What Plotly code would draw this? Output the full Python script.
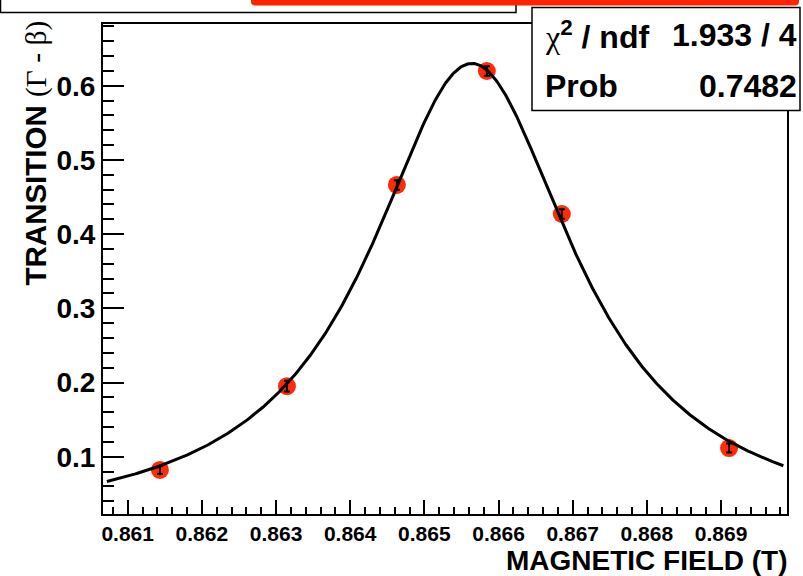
import numpy as np
import plotly.graph_objects as go

# Measured transition probability vs. magnetic field
field = [0.861435, 0.863147, 0.864629, 0.865842, 0.866853, 0.869108]
transition = [0.0821, 0.1950, 0.4662, 0.6198, 0.4271, 0.1117]
transition_err = [0.0055, 0.0072, 0.0065, 0.0065, 0.0065, 0.0060]

x_ticks = [0.861, 0.862, 0.863, 0.864, 0.865, 0.866, 0.867, 0.868, 0.869]
y_ticks = [0.1, 0.2, 0.3, 0.4, 0.5, 0.6]

# Lorentzian fit result
fit_amp = 0.630
fit_mean = 0.86564
fit_hwhm = 0.00169
fit_range = (0.86072, 0.86984)
chi2_ndf = "1.933 / 4"
prob = "0.7482"

W, H = 803, 576
L, R, T, B = 103, 787, 24, 514


def px(x):
    return (x - L) / (R - L)


def py(y):
    return (B - y) / (B - T)


xs = np.linspace(fit_range[0], fit_range[1], 500)
ys = fit_amp / (1.0 + ((xs - fit_mean) / fit_hwhm) ** 2)

RED = "#ff2a08"
FONT = "Liberation Sans"

fig = go.Figure()
# data markers
fig.add_trace(go.Scatter(
    x=field, y=transition, mode="markers",
    marker=dict(size=18, color=RED, line=dict(width=0)),
    showlegend=False, hoverinfo="skip",
))
# error bars on top of the markers
fig.add_trace(go.Scatter(
    x=field, y=transition, mode="markers",
    marker=dict(size=1, color="rgba(0,0,0,0)"),
    error_y=dict(type="data", array=transition_err, color="black",
                 thickness=2, width=3),
    showlegend=False, hoverinfo="skip",
))
# fitted curve
fig.add_trace(go.Scatter(
    x=xs, y=ys, mode="lines", line=dict(color="black", width=3),
    showlegend=False, hoverinfo="skip",
))

fig.update_layout(
    width=W, height=H,
    margin=dict(l=L, r=W - R, t=T, b=H - B, pad=0),
    paper_bgcolor="white", plot_bgcolor="white",
    font=dict(family=FONT, color="black"),
    xaxis=dict(
        range=[0.860667, 0.869889], tickvals=x_ticks,
        ticktext=[f"{v:.3f}" for v in x_ticks],
        ticks="inside", ticklen=14, tickwidth=1.5, tickcolor="black",
        minor=dict(dtick=0.0002, tick0=0.861, ticks="inside", ticklen=7,
                   tickwidth=1.5, tickcolor="black", showgrid=False),
        showgrid=False, zeroline=False,
        showline=True, linecolor="black", linewidth=2, mirror=True,
        tickfont=dict(size=21, family=FONT, weight="bold"),
    ),
    yaxis=dict(
        range=[0.02278, 0.68315], tickvals=y_ticks,
        ticktext=[f"{v:.1f}" for v in y_ticks],
        ticks="inside", ticklen=21, tickwidth=1.5, tickcolor="black",
        minor=dict(dtick=0.02, tick0=0.0, ticks="inside", ticklen=11,
                   tickwidth=1.5, tickcolor="black", showgrid=False),
        showgrid=False, zeroline=False,
        showline=True, linecolor="black", linewidth=2, mirror=True,
        tickfont=dict(size=28, family=FONT, weight="bold"),
    ),
)

shapes = []
# title pave (partly off the page)
shapes.append(dict(type="rect", xref="paper", yref="paper",
                   x0=px(0.5), x1=px(516), y0=py(-3), y1=py(12.5),
                   line=dict(color="black", width=1.5), fillcolor="white",
                   layer="above"))
# red banner with rounded lower corners
rx0, rx1, ry0, ry1, rr = 251, 799, -3, 5.5, 4


def P(x, y):
    return f"{px(x):.6f},{py(y):.6f}"


banner = (f"M {P(rx0, ry0)} L {P(rx0, ry1 - rr)} "
          f"Q {P(rx0, ry1)} {P(rx0 + rr, ry1)} "
          f"L {P(rx1 - rr, ry1)} Q {P(rx1, ry1)} {P(rx1, ry1 - rr)} "
          f"L {P(rx1, ry0)} Z")
shapes.append(dict(type="path", xref="paper", yref="paper", path=banner,
                   line=dict(width=0), fillcolor="#ff2200", layer="above"))
# statistics box
shapes.append(dict(type="rect", xref="paper", yref="paper",
                   x0=px(532), x1=px(800), y0=py(7.5), y1=py(110.5),
                   line=dict(color="black", width=1.5), fillcolor="white",
                   layer="above"))
fig.update_layout(shapes=shapes)

ann = []
ann.append(dict(text="<b>MAGNETIC FIELD (T)</b>", xref="paper", yref="paper",
                x=1.0, y=py(560), xanchor="right", yanchor="middle",
                xshift=3, showarrow=False, font=dict(size=28, family=FONT)))
ann.append(dict(text="<b>TRANSITION </b><span style=\"font-family:Liberation Serif\">(Γ - β)</span>",
                xref="paper", yref="paper", x=px(35), y=py(19),
                xanchor="center", yanchor="top", textangle=-90,
                showarrow=False, font=dict(size=29.5, family=FONT)))
stat_font = dict(size=32, family=FONT)
ann.append(dict(text="<span style=\"font-family:Liberation Serif\">χ</span><b><sup>2</sup> / ndf</b>",
                xref="paper", yref="paper", x=px(543), y=py(35),
                xanchor="left", yanchor="middle", showarrow=False,
                font=stat_font))
ann.append(dict(text=f"<b>{chi2_ndf}</b>", xref="paper", yref="paper",
                x=px(799), y=py(35), xanchor="right", yanchor="middle",
                showarrow=False, font=stat_font))
ann.append(dict(text="<b>Prob</b>", xref="paper", yref="paper",
                x=px(543), y=py(86), xanchor="left", yanchor="middle",
                showarrow=False, font=stat_font))
ann.append(dict(text=f"<b>{prob}</b>", xref="paper", yref="paper",
                x=px(799), y=py(86), xanchor="right", yanchor="middle",
                showarrow=False, font=stat_font))
fig.update_layout(annotations=ann)

fig.write_html("out.html")
